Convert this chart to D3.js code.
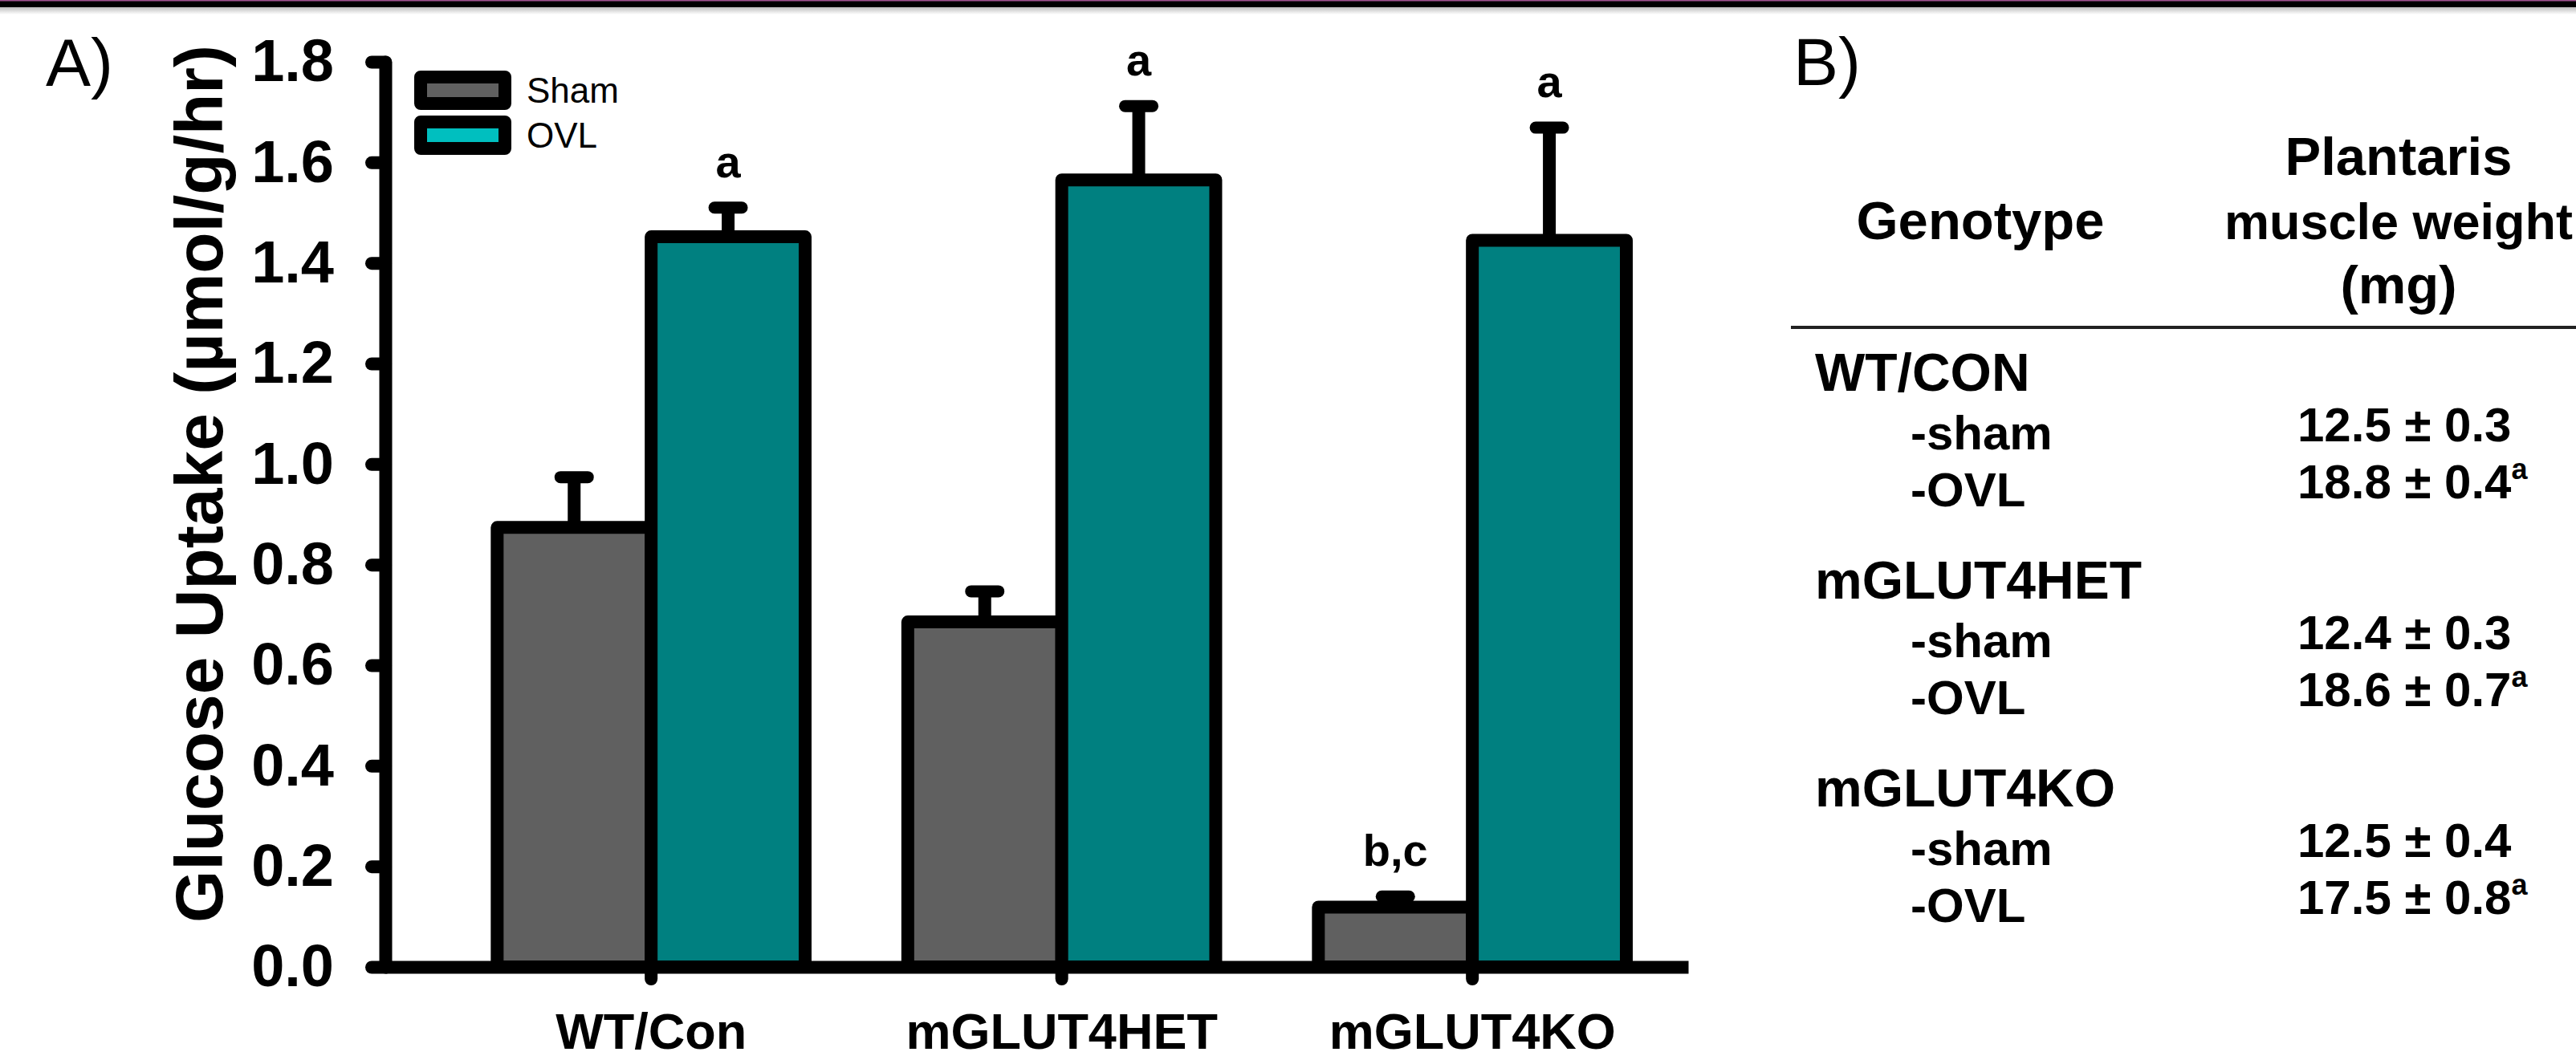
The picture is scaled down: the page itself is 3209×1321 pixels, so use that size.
<!DOCTYPE html>
<html>
<head>
<meta charset="utf-8">
<script src="https://cdn.jsdelivr.net/npm/d3@7"></script>
<style>
  html, body { margin: 0; padding: 0; background: #ffffff; }
  svg { display: block; font-family: "Liberation Sans", Arial, sans-serif; }
</style>
</head>
<body>
<svg id="chart" width="3209" height="1321"></svg>
<script>
// ---------------- data ----------------
const categories = ["WT/Con", "mGLUT4HET", "mGLUT4KO"];
const seriesNames = ["Sham", "OVL"];
const shamMean = [0.874, 0.686, 0.119];
const shamSE   = [0.100, 0.061, 0.021];
const ovlMean  = [1.452, 1.565, 1.445];
const ovlSE    = [0.058, 0.147, 0.224];
const shamSig  = ["", "", "b,c"];
const ovlSig   = ["a", "a", "a"];
const yTicks   = [0.0, 0.2, 0.4, 0.6, 0.8, 1.0, 1.2, 1.4, 1.6, 1.8];
const yTitle   = "Glucose Uptake (\u00B5mol/g/hr)";

const tableGenotypes = ["WT/CON", "mGLUT4HET", "mGLUT4KO"];
const tableRows = ["-sham", "-OVL"];
const weightMean = [[12.5, 18.8], [12.4, 18.6], [12.5, 17.5]];
const weightSE   = [[0.3, 0.4], [0.3, 0.7], [0.4, 0.8]];
const weightSig  = [["", "a"], ["", "a"], ["", "a"]];
const tableHeaderLeft = "Genotype";
const tableHeaderRight = ["Plantaris", "muscle weight", "(mg)"];

// ---------------- styles ----------------
const barFill = {Sham: "#606060", OVL: "#008080"};
const legendFill = {Sham: "#606060", OVL: "#00BFBF"};
const SW = 16;

const svg = d3.select("#chart");

// top border
const defs = svg.append("defs");
const grad = defs.append("linearGradient").attr("id", "shade").attr("x1", 0).attr("y1", 0).attr("x2", 0).attr("y2", 1);
grad.append("stop").attr("offset", "0%").attr("stop-color", "#bdbdbd");
grad.append("stop").attr("offset", "100%").attr("stop-color", "#ffffff");
svg.append("rect").attr("x", 0).attr("y", 9).attr("width", 3209).attr("height", 9).attr("fill", "url(#shade)");
svg.append("rect").attr("x", 0).attr("y", 0).attr("width", 3209).attr("height", 9).attr("fill", "#000");
svg.append("rect").attr("x", 0).attr("y", 0).attr("width", 3209).attr("height", 1.5).attr("fill", "#a0528f");

// ---------------- panel A ----------------
const plotLeft = 480, plotRight = 2103, yBottom = 1205, yTop = 77;

const y = d3.scaleLinear().domain([0, 1.8]).range([yBottom, yTop]);
const x0 = d3.scaleBand().domain(categories).range([plotLeft, plotRight])
  .paddingInner(0.25).paddingOuter(0.2115).align(0.644);
const x1 = d3.scaleBand().domain(seriesNames).range([0, x0.bandwidth()]);

const rows = categories.map((c, i) => ({
  cat: c,
  vals: [
    {s: "Sham", v: shamMean[i], se: shamSE[i], sig: shamSig[i]},
    {s: "OVL",  v: ovlMean[i],  se: ovlSE[i],  sig: ovlSig[i]}
  ]
}));

// bars
const groups = svg.append("g").selectAll("g").data(rows).join("g")
  .attr("transform", d => `translate(${x0(d.cat)},0)`);

groups.selectAll("rect").data(d => d.vals).join("rect")
  .attr("x", d => x1(d.s))
  .attr("y", d => y(d.v))
  .attr("width", x1.bandwidth())
  .attr("height", d => y(0) - y(d.v))
  .attr("fill", d => barFill[d.s])
  .attr("stroke", "#000")
  .attr("stroke-width", SW)
  .attr("stroke-linejoin", "round");

// error bars
const eb = groups.selectAll("g.eb").data(d => d.vals).join("g").attr("class", "eb");
eb.append("line")
  .attr("x1", d => x1(d.s) + x1.bandwidth() / 2)
  .attr("x2", d => x1(d.s) + x1.bandwidth() / 2)
  .attr("y1", d => y(d.v))
  .attr("y2", d => y(d.v + d.se))
  .attr("stroke", "#000").attr("stroke-width", SW);
eb.append("line")
  .attr("x1", d => x1(d.s) + x1.bandwidth() / 2 - 17)
  .attr("x2", d => x1(d.s) + x1.bandwidth() / 2 + 17)
  .attr("y1", d => y(d.v + d.se))
  .attr("y2", d => y(d.v + d.se))
  .attr("stroke", "#000").attr("stroke-width", 15).attr("stroke-linecap", "round");
eb.append("text")
  .attr("x", d => x1(d.s) + x1.bandwidth() / 2)
  .attr("y", d => y(d.v + d.se) - 38)
  .attr("text-anchor", "middle")
  .attr("font-size", 56).attr("font-weight", "bold")
  .text(d => d.sig);

// y axis
const yAxis = svg.append("g").attr("transform", `translate(${plotLeft},0)`)
  .call(d3.axisLeft(y).tickValues(yTicks).tickFormat(d3.format(".1f"))
        .tickSize(17).tickSizeOuter(0).tickPadding(47));
yAxis.select(".domain").attr("stroke", "#000").attr("stroke-width", SW).attr("stroke-linecap", "round");
yAxis.selectAll(".tick line").attr("stroke", "#000").attr("stroke-width", SW).attr("stroke-linecap", "round");
yAxis.selectAll(".tick text").attr("font-size", 74).attr("font-weight", "bold")
  .attr("font-family", "'Liberation Sans', Arial, sans-serif").attr("fill", "#000");

// x axis
const xAxis = svg.append("g").attr("transform", `translate(0,${y(0)})`)
  .call(d3.axisBottom(x0).tickSize(15).tickSizeOuter(0).tickPadding(42));
xAxis.select(".domain").attr("stroke", "#000").attr("stroke-width", SW);
xAxis.selectAll(".tick line").attr("stroke", "#000").attr("stroke-width", SW).attr("stroke-linecap", "round");
xAxis.selectAll(".tick text").attr("font-size", 63).attr("font-weight", "bold")
  .attr("font-family", "'Liberation Sans', Arial, sans-serif").attr("fill", "#000");

// y title
svg.append("text")
  .attr("transform", `translate(277,603) rotate(-90)`)
  .attr("text-anchor", "middle")
  .attr("font-size", 84).attr("font-weight", "bold")
  .text(yTitle);

// panel label
svg.append("text").attr("x", 57).attr("y", 107).attr("font-size", 84).text("A)");

// legend
const legend = svg.append("g").selectAll("g").data(seriesNames).join("g")
  .attr("transform", (d, i) => `translate(524,${96 + i * 56})`);
legend.append("rect")
  .attr("width", 105).attr("height", 33)
  .attr("fill", d => legendFill[d])
  .attr("stroke", "#000").attr("stroke-width", SW).attr("stroke-linejoin", "round");
legend.append("text")
  .attr("x", 132).attr("y", 32)
  .attr("font-size", 44)
  .text(d => d);

// ---------------- panel B (table) ----------------
svg.append("text").attr("x", 2234).attr("y", 106).attr("font-size", 84).text("B)");

svg.append("text").attr("x", 2467).attr("y", 298).attr("text-anchor", "middle")
  .attr("font-size", 67).attr("font-weight", "bold").text(tableHeaderLeft);

svg.append("g").selectAll("text").data(tableHeaderRight).join("text")
  .attr("x", 2988).attr("y", (d, i) => 218 + i * 80)
  .attr("text-anchor", "middle")
  .attr("font-size", (d, i) => i === 1 ? 63 : 67).attr("font-weight", "bold")
  .text(d => d);

svg.append("line").attr("x1", 2231).attr("x2", 3209).attr("y1", 408).attr("y2", 408)
  .attr("stroke", "#222").attr("stroke-width", 4);

const gy = d3.scaleLinear().domain([0, 2]).range([487, 1005]);
const tg = svg.append("g").selectAll("g").data(tableGenotypes).join("g")
  .attr("transform", (d, i) => `translate(0,${gy(i)})`);

tg.append("text").attr("x", 2261).attr("y", 0)
  .attr("font-size", 66).attr("font-weight", "bold").text(d => d);

tg.each(function(d, gi) {
  const g = d3.select(this);
  tableRows.forEach((r, ri) => {
    g.append("text").attr("x", 2380).attr("y", 73 + ri * 71)
      .attr("font-size", 60).attr("font-weight", "bold").text(r);
    const t = g.append("text").attr("x", 2862).attr("y", 63 + ri * 71)
      .attr("font-size", 60).attr("font-weight", "bold");
    t.append("tspan").text(`${d3.format(".1f")(weightMean[gi][ri])} \u00B1 ${d3.format(".1f")(weightSE[gi][ri])}`);
    if (weightSig[gi][ri]) {
      t.append("tspan").attr("font-size", 36).attr("dy", -24).text(weightSig[gi][ri]);
    }
  });
});
</script>
</body>
</html>
